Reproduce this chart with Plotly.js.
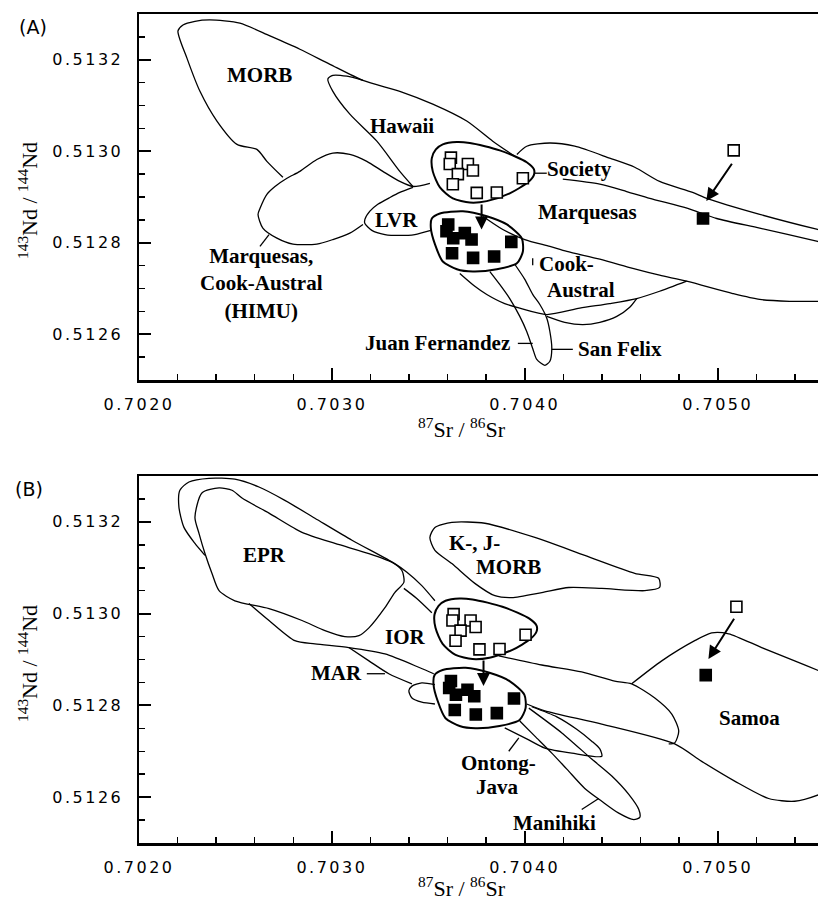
<!DOCTYPE html>
<html><head><meta charset="utf-8">
<script src="https://cdn.plot.ly/plotly-3.0.1.min.js"></script>
<style>
html,body{margin:0;padding:0;background:#fff;}
#chart{width:818px;height:904px;}
.xtick text,.ytick text,.x2tick text,.y2tick text{letter-spacing:2.5px;}
</style></head><body><div id="chart"></div>
<script>
// ---------- tick labels ----------
const xTickVals = [0.7020, 0.7030, 0.7040, 0.7050];
const xTickText = ['0.7020', '0.7030', '0.7040', '0.7050'];
const yTickVals = [0.5126, 0.5128, 0.5130, 0.5132];
const yTickText = ['0.5126', '0.5128', '0.5130', '0.5132'];

// ---------- samples (panel A) ----------
const openA_sr = [0.703617,0.703611,0.703705,0.703731,0.703653,0.703627,0.703751,0.703855,0.703990,0.705083];
const openA_nd = [0.512986,0.512972,0.512972,0.512958,0.512950,0.512928,0.512909,0.512910,0.512941,0.513002];
const filledA_sr = [0.703603,0.703594,0.703629,0.703689,0.703724,0.703930,0.703623,0.703732,0.703841,0.704924];
const filledA_nd = [0.512840,0.512825,0.512810,0.512821,0.512807,0.512802,0.512777,0.512767,0.512770,0.512853];
// ---------- samples (panel B) ----------
const openB_sr = [0.703631,0.703625,0.703719,0.703745,0.703667,0.703641,0.703765,0.703869,0.704004,0.705097];
const openB_nd = [0.512999,0.512985,0.512985,0.512971,0.512963,0.512941,0.512922,0.512923,0.512954,0.513015];
const filledB_sr = [0.703617,0.703608,0.703643,0.703703,0.703738,0.703944,0.703637,0.703746,0.703855,0.704938];
const filledB_nd = [0.512853,0.512838,0.512823,0.512834,0.512820,0.512815,0.512790,0.512780,0.512783,0.512866];

// ---------- arrows: [tailSr, tailNd, headSr, headNd] ----------
const arrowsA = [[0.703776,0.512887,0.703776,0.512829],[0.705079,0.512976,0.704941,0.512891]];
const arrowsB = [[0.703786,0.512901,0.703786,0.512842],[0.705090,0.512992,0.704952,0.512901]];

// ---------- field outlines, panel A ----------
const morbA_sr = [0.702746,0.702663,0.702611,0.702508,0.702404,0.702316,0.702249,0.702202,0.702228,0.702290,0.702368,0.702523,0.702679,0.702834,0.702990,0.703161,0.703352,0.703523,0.703699,0.703834,0.703948];
const morbA_nd = [0.512943,0.512978,0.513004,0.513015,0.513066,0.513131,0.513203,0.513263,0.513276,0.513284,0.513287,0.513280,0.513252,0.513223,0.513190,0.513155,0.513131,0.513103,0.513066,0.513022,0.512989];
const hawaiiA_sr = [0.703420,0.703352,0.703233,0.703093,0.703005,0.702979,0.703005,0.703078,0.703161];
const hawaiiA_nd = [0.512923,0.512956,0.513022,0.513081,0.513131,0.513158,0.513166,0.513164,0.513155];
const himuA_sr = [0.703161,0.703093,0.703005,0.702922,0.702798,0.702715,0.702642,0.702617,0.702627,0.702663,0.702705,0.702767,0.702834,0.702922,0.703005,0.703093,0.703181,0.703264,0.703352,0.703420,0.703508];
const himuA_nd = [0.512840,0.512821,0.512807,0.512797,0.512797,0.512810,0.512832,0.512862,0.512875,0.512906,0.512923,0.512941,0.512956,0.512982,0.512996,0.512993,0.512978,0.512956,0.512934,0.512923,0.512930];
const lvrA_sr = [0.703513,0.703430,0.703352,0.703275,0.703207,0.703171,0.703171,0.703197,0.703238,0.703301,0.703352,0.703420];
const lvrA_nd = [0.512827,0.512818,0.512816,0.512818,0.512827,0.512842,0.512851,0.512869,0.512884,0.512899,0.512910,0.512921];
const openEllA_sr = [0.703518,0.703539,0.703575,0.703648,0.703715,0.703793,0.703870,0.703948,0.704010,0.704047,0.704047,0.704016,0.703922,0.703803,0.703715,0.703627,0.703560,0.703523,0.703518];
const openEllA_nd = [0.512985,0.513004,0.513015,0.513020,0.513018,0.513011,0.513002,0.512989,0.512976,0.512961,0.512948,0.512932,0.512908,0.512891,0.512888,0.512897,0.512921,0.512956,0.512985];
const fillEllA_sr = [0.703518,0.703560,0.703679,0.703803,0.703907,0.703984,0.703990,0.703959,0.703855,0.703731,0.703648,0.703575,0.703534,0.703513,0.703518];
const fillEllA_nd = [0.512853,0.512864,0.512869,0.512858,0.512840,0.512810,0.512781,0.512755,0.512742,0.512737,0.512742,0.512759,0.512797,0.512832,0.512853];
const socUpA_sr = [0.703959,0.704010,0.704130,0.704259,0.704440,0.704570,0.704699,0.704870,0.704943,0.705218,0.705518,0.705580];
const socUpA_nd = [0.512993,0.513011,0.513018,0.513011,0.512985,0.512965,0.512934,0.512910,0.512897,0.512862,0.512829,0.512823];
const socLowA_sr = [0.704197,0.704389,0.704528,0.704648,0.704845,0.704995,0.705218,0.705518,0.705580];
const socLowA_nd = [0.512939,0.512928,0.512912,0.512897,0.512875,0.512853,0.512832,0.512803,0.512797];
const marqLowA_sr = [0.703782,0.703886,0.704000,0.704130,0.704218,0.704389,0.704560,0.704699,0.704839,0.705078,0.705218,0.705373,0.705580];
const marqLowA_nd = [0.512858,0.512829,0.512807,0.512792,0.512781,0.512764,0.512744,0.512729,0.512716,0.512689,0.512676,0.512672,0.512672];
const cookLowA_sr = [0.703663,0.703741,0.703803,0.703896,0.703974,0.704114,0.704285,0.704440,0.704580,0.704699,0.704839];
const cookLowA_nd = [0.512733,0.512705,0.512687,0.512667,0.512657,0.512643,0.512657,0.512667,0.512678,0.512694,0.512716];
const cookLobeA_sr = [0.704114,0.704207,0.704301,0.704389,0.704477,0.704544,0.704580];
const cookLobeA_nd = [0.512639,0.512626,0.512621,0.512626,0.512639,0.512659,0.512678];
const jfsfA_sr = [0.703819,0.703870,0.703922,0.703974,0.704010,0.704041,0.704062,0.704104,0.704130,0.704140,0.704130,0.704114,0.704078,0.704041,0.704000,0.703948];
const jfsfA_nd = [0.512737,0.512709,0.512678,0.512639,0.512606,0.512569,0.512545,0.512532,0.512541,0.512569,0.512606,0.512635,0.512665,0.512687,0.512720,0.512753];
const leadersA = [
  [[0.703964,0.704041],[0.512580,0.512580]],
  [[0.704140,0.704249],[0.512567,0.512567]],
  [[0.702627,0.702674],[0.512792,0.512818]],
  [[0.704041,0.704041],[0.512766,0.512751]],
  [[0.704050,0.704114],[0.512952,0.512952]]
];

// ---------- field outlines, panel B ----------
const outerB_sr = [0.702342,0.702290,0.702233,0.702207,0.702212,0.702259,0.702363,0.702497,0.702622,0.702756,0.702912,0.703104,0.703326,0.703389,0.703466,0.703534];
const outerB_nd = [0.513127,0.513153,0.513188,0.513232,0.513269,0.513287,0.513295,0.513293,0.513276,0.513247,0.513208,0.513160,0.513109,0.513090,0.513061,0.513028];
const eprB_sr = [0.702290,0.702326,0.702415,0.702482,0.702534,0.702674,0.702845,0.703016,0.703192,0.703311,0.703363,0.703373,0.703326,0.703275,0.703192,0.703140,0.703067,0.702964,0.702845,0.702674,0.702497,0.702415,0.702378,0.702342,0.702311,0.702290];
const eprB_nd = [0.513210,0.513263,0.513274,0.513269,0.513252,0.513219,0.513177,0.513153,0.513131,0.513112,0.513094,0.513068,0.513046,0.513013,0.512969,0.512952,0.512950,0.512963,0.512985,0.513011,0.513028,0.513050,0.513088,0.513131,0.513175,0.513210];
const eprLinkB_sr = [0.703373,0.703440,0.703518];
const eprLinkB_nd = [0.513055,0.513033,0.513002];
const iorLowB_sr = [0.702570,0.702674,0.702808,0.702912,0.703088,0.703275,0.703456,0.703528];
const iorLowB_nd = [0.513022,0.512985,0.512941,0.512934,0.512926,0.512912,0.512882,0.512869];
const marB_sr = [0.703088,0.703192,0.703295,0.703415];
const marB_nd = [0.512926,0.512897,0.512869,0.512847];
const marLensB_sr = [0.703534,0.703466,0.703415,0.703399,0.703415,0.703466,0.703534];
const marLensB_nd = [0.512845,0.512849,0.512842,0.512832,0.512816,0.512807,0.512803];
const kjB_sr = [0.703508,0.703534,0.703622,0.703793,0.704052,0.704311,0.704570,0.704694,0.704699,0.704622,0.704399,0.704228,0.704088,0.703933,0.703845,0.703741,0.703622,0.703534,0.703508];
const kjB_nd = [0.513166,0.513188,0.513199,0.513197,0.513166,0.513127,0.513088,0.513077,0.513057,0.513050,0.513055,0.513057,0.513046,0.513035,0.513039,0.513066,0.513109,0.513138,0.513166];
const openEllB_sr = [0.703532,0.703553,0.703589,0.703662,0.703729,0.703807,0.703884,0.703962,0.704024,0.704061,0.704061,0.704030,0.703936,0.703817,0.703729,0.703641,0.703574,0.703537,0.703532];
const openEllB_nd = [0.512998,0.513017,0.513028,0.513033,0.513031,0.513024,0.513015,0.513002,0.512989,0.512974,0.512961,0.512945,0.512921,0.512904,0.512901,0.512910,0.512934,0.512969,0.512998];
const fillEllB_sr = [0.703532,0.703574,0.703693,0.703817,0.703921,0.703998,0.704004,0.703973,0.703869,0.703745,0.703662,0.703589,0.703548,0.703527,0.703532];
const fillEllB_nd = [0.512866,0.512877,0.512882,0.512871,0.512853,0.512823,0.512794,0.512768,0.512755,0.512750,0.512755,0.512772,0.512810,0.512845,0.512866];
const samoaTopB_sr = [0.704554,0.704710,0.704881,0.704969,0.705057,0.705228,0.705399,0.705528,0.705591];
const samoaTopB_nd = [0.512847,0.512897,0.512941,0.512958,0.512956,0.512926,0.512897,0.512875,0.512864];
const samoaLinkB_sr = [0.703865,0.704088,0.704295,0.704466,0.704554,0.704674,0.704762,0.704798,0.704777,0.704746];
const samoaLinkB_nd = [0.512908,0.512888,0.512873,0.512853,0.512847,0.512816,0.512781,0.512744,0.512718,0.512716];
const samoaLowB_sr = [0.704010,0.704104,0.704399,0.704777,0.704917,0.705088,0.705264,0.705399,0.705528,0.705591];
const samoaLowB_nd = [0.512803,0.512788,0.512759,0.512716,0.512678,0.512635,0.512597,0.512591,0.512606,0.512619];
const ojB_sr = [0.703896,0.704010,0.704104,0.704244,0.704399,0.704389,0.704347,0.704269,0.704166,0.704036];
const ojB_nd = [0.512751,0.512727,0.512707,0.512696,0.512689,0.512705,0.512722,0.512748,0.512775,0.512797];
const maniB_sr = [0.704021,0.704192,0.704347,0.704451,0.704539,0.704591,0.704596,0.704565,0.704487,0.704399,0.704311,0.704218,0.704140,0.704052,0.703974];
const maniB_nd = [0.512794,0.512740,0.512683,0.512646,0.512606,0.512573,0.512556,0.512551,0.512565,0.512591,0.512619,0.512661,0.512696,0.512733,0.512766];
const leadersB = [
  [[0.703181,0.703275],[0.512869,0.512869]],
  [[0.703917,0.703969],[0.512700,0.512729]],
  [[0.704295,0.704383],[0.512573,0.512597]]
];

// ---------- build traces ----------
const traces = [];
function addLine(sr, nd, panel, w) {
  traces.push({x: sr, y: nd, xaxis: panel === 'A' ? 'x' : 'x2', yaxis: panel === 'A' ? 'y' : 'y2',
    type: 'scatter', mode: 'lines', line: {color: '#000', width: w || 1.3, shape: 'spline', smoothing: 0.7},
    hoverinfo: 'skip', showlegend: false});
}
function addPts(sr, nd, panel, filled) {
  traces.push({x: sr, y: nd, xaxis: panel === 'A' ? 'x' : 'x2', yaxis: panel === 'A' ? 'y' : 'y2',
    type: 'scatter', mode: 'markers',
    marker: {symbol: 'square', size: 11, color: filled ? '#000' : '#fff', line: {color: '#000', width: 1.6}},
    hoverinfo: 'skip', showlegend: false});
}
[[morbA_sr, morbA_nd], [hawaiiA_sr, hawaiiA_nd], [himuA_sr, himuA_nd], [lvrA_sr, lvrA_nd],
 [socUpA_sr, socUpA_nd], [socLowA_sr, socLowA_nd], [marqLowA_sr, marqLowA_nd], [cookLowA_sr, cookLowA_nd],
 [cookLobeA_sr, cookLobeA_nd], [jfsfA_sr, jfsfA_nd]].forEach(p => addLine(p[0], p[1], 'A'));
leadersA.forEach(p => addLine(p[0], p[1], 'A', 1.3));
addLine(openEllA_sr, openEllA_nd, 'A', 2);
addLine(fillEllA_sr, fillEllA_nd, 'A', 2);

[[outerB_sr, outerB_nd], [eprB_sr, eprB_nd], [eprLinkB_sr, eprLinkB_nd], [iorLowB_sr, iorLowB_nd],
 [marB_sr, marB_nd], [marLensB_sr, marLensB_nd], [kjB_sr, kjB_nd], [samoaTopB_sr, samoaTopB_nd],
 [samoaLinkB_sr, samoaLinkB_nd], [samoaLowB_sr, samoaLowB_nd], [ojB_sr, ojB_nd], [maniB_sr, maniB_nd]].forEach(p => addLine(p[0], p[1], 'B'));
leadersB.forEach(p => addLine(p[0], p[1], 'B', 1.3));
addLine(openEllB_sr, openEllB_nd, 'B', 2);
addLine(fillEllB_sr, fillEllB_nd, 'B', 2);

addPts(openA_sr, openA_nd, 'A', false);
addPts(filledA_sr, filledA_nd, 'A', true);
addPts(openB_sr, openB_nd, 'B', false);
addPts(filledB_sr, filledB_nd, 'B', true);

// ---------- annotations ----------
const serif = {family: 'Liberation Serif, Times New Roman, serif', size: 21, color: '#000'};
function lab(text, x, y, panel, xanchor) {
  return {text: '<b>' + text + '</b>', x: x, y: y, xref: panel === 'A' ? 'x' : 'x2', yref: panel === 'A' ? 'y' : 'y2',
    showarrow: false, font: serif, xanchor: xanchor || 'center', yanchor: 'middle', align: 'center'};
}
const ann = [
  lab('MORB', 0.702627, 0.513166, 'A'),
  lab('Hawaii', 0.703363, 0.513055, 'A'),
  lab('Society', 0.704285, 0.512961, 'A'),
  lab('Marquesas', 0.704326, 0.512867, 'A'),
  lab('LVR', 0.703337, 0.512849, 'A'),
  lab('Marquesas,<br>Cook-Austral<br>(HIMU)', 0.702637, 0.512711, 'A'),
  lab('Cook-', 0.704062, 0.512753, 'A', 'left'),
  lab('Austral', 0.704290, 0.512696, 'A'),
  lab('Juan Fernandez', 0.703933, 0.512580, 'A', 'right'),
  lab('San Felix', 0.704264, 0.512567, 'A', 'left'),
  lab('EPR', 0.702653, 0.513127, 'B'),
  lab('K-, J-', 0.703596, 0.513155, 'B', 'left'),
  lab('MORB', 0.703736, 0.513101, 'B', 'left'),
  lab('IOR', 0.703383, 0.512950, 'B'),
  lab('MAR', 0.703166, 0.512871, 'B', 'right'),
  lab('Ontong-', 0.703865, 0.512674, 'B'),
  lab('Java', 0.703860, 0.512621, 'B'),
  lab('Manihiki', 0.704155, 0.512543, 'B'),
  lab('Samoa', 0.705166, 0.512772, 'B')
];
function arrows(list, panel) {
  list.forEach(a => ann.push({x: a[2], y: a[3], ax: a[0], ay: a[1],
    xref: panel === 'A' ? 'x' : 'x2', yref: panel === 'A' ? 'y' : 'y2',
    axref: panel === 'A' ? 'x' : 'x2', ayref: panel === 'A' ? 'y' : 'y2',
    text: '', showarrow: true, arrowhead: 2, arrowsize: 1.3, arrowwidth: 2, arrowcolor: '#000', standoff: 0, startstandoff: 0}));
}
arrows(arrowsA, 'A');
arrows(arrowsB, 'B');
const titleFont = {family: 'Liberation Serif, Times New Roman, serif', size: 22, color: '#000'};
function paperText(text, x, y, font, angle) {
  return {text: text, xref: 'paper', yref: 'paper', x: x, y: y, xanchor: 'center', yanchor: 'middle',
    showarrow: false, font: font, textangle: angle || 0};
}
ann.push(paperText('<sup>87</sup>Sr / <sup>86</sup>Sr', 0.4757, 0.5006, titleFont));
ann.push(paperText('<sup>87</sup>Sr / <sup>86</sup>Sr', 0.4757, -0.0530, titleFont));
ann.push(paperText('<sup>143</sup>Nd / <sup>144</sup>Nd', -0.1635, 0.7756, titleFont, -90));
ann.push(paperText('<sup>143</sup>Nd / <sup>144</sup>Nd', -0.1635, 0.2171, titleFont, -90));
const panelFont = {family: 'DejaVu Sans, sans-serif', size: 19, color: '#000'};
ann.push(paperText('(A)', -0.1561, 0.9843, panelFont));
ann.push(paperText('(B)', -0.1620, 0.4270, panelFont));

// ---------- axes ----------
const tickFont = {family: 'DejaVu Sans, sans-serif', size: 16, color: '#000'};
function xAx(anchor) {
  return {anchor: anchor, domain: [0, 1], range: [0.7020, 0.70552], tickmode: 'array', tickvals: xTickVals, ticktext: xTickText,
    showline: true, linecolor: '#000', linewidth: 2.5, mirror: true, ticks: 'inside', ticklen: 12, tickwidth: 2, tickcolor: '#000',
    minor: {tickmode: 'linear', tick0: 0.7020, dtick: 0.0002, ticks: 'inside', ticklen: 6, tickwidth: 1.5, tickcolor: '#000'},
    showgrid: false, zeroline: false, tickfont: tickFont, ticklabelstandoff: 8, fixedrange: true};
}
function yAx(anchor, domain) {
  return {anchor: anchor, domain: domain, range: [0.5125, 0.5133], tickmode: 'array', tickvals: yTickVals, ticktext: yTickText,
    showline: true, linecolor: '#000', linewidth: 2.5, ticks: 'inside', ticklen: 12, tickwidth: 2, tickcolor: '#000',
    minor: {tickmode: 'linear', tick0: 0.5125, dtick: 0.00005, ticks: 'inside', ticklen: 6, tickwidth: 1.5, tickcolor: '#000'},
    showgrid: false, zeroline: false, tickfont: tickFont, ticklabelstandoff: 10, fixedrange: true};
}
const layout = {
  width: 818, height: 904, margin: {l: 139, r: 0, t: 14, b: 61},
  paper_bgcolor: '#fff', plot_bgcolor: '#fff', showlegend: false,
  xaxis: xAx('y'), yaxis: yAx('x', [0.5585, 1]),
  xaxis2: xAx('y2'), yaxis2: yAx('x2', [0, 0.4427]),
  annotations: ann
};
Plotly.newPlot('chart', traces, layout, {displayModeBar: false, staticPlot: true});
</script></body></html>
